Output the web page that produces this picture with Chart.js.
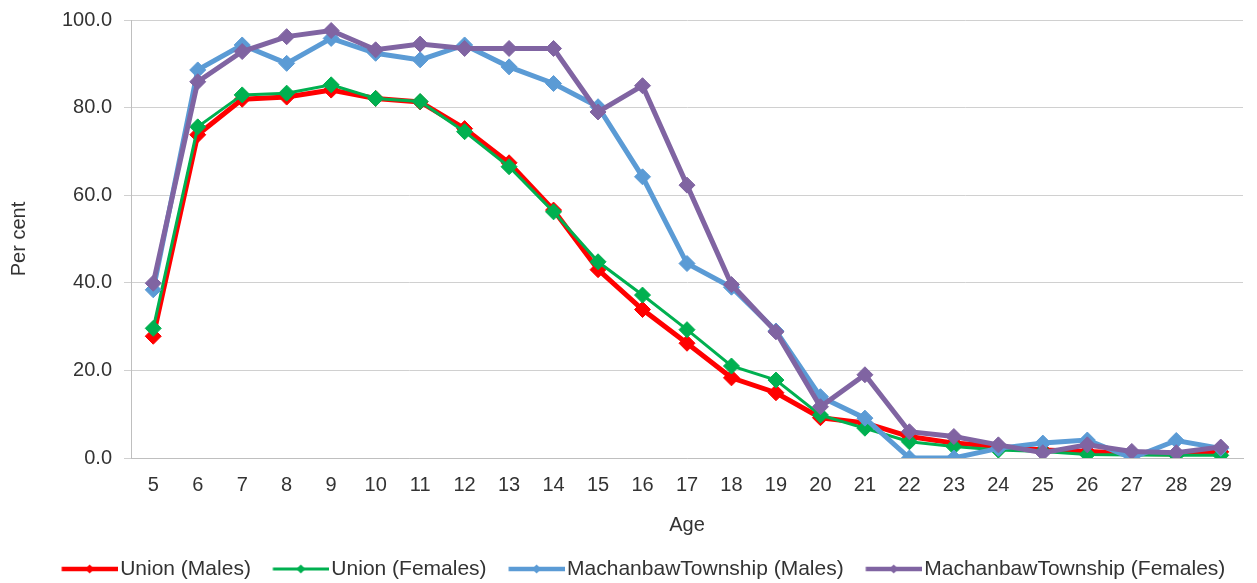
<!DOCTYPE html>
<html><head><meta charset="utf-8">
<script src="https://cdn.jsdelivr.net/npm/chart.js@4.4.1/dist/chart.umd.min.js"></script>
<style>html,body{margin:0;padding:0;background:#fff;}#wrap{width:1257px;height:583px;position:relative;}</style>
</head><body><div id="wrap"><canvas id="c"></canvas></div>
<script>
const ages = ['5','6','7','8','9','10','11','12','13','14','15','16','17','18','19','20','21','22','23','24','25','26','27','28','29'];
const unionMales   = [27.8, 73.8, 81.9, 82.4, 84.0, 82.1, 81.3, 75.2, 67.4, 56.6, 43.0, 33.9, 26.2, 18.3, 14.9, 9.2, 8.0, 4.9, 3.4, 2.6, 1.8, 1.5, 1.1, 0.9, 1.4];
const unionFemales = [29.6, 75.6, 82.9, 83.3, 85.2, 82.1, 81.4, 74.5, 66.5, 56.2, 44.8, 37.2, 29.3, 21.0, 17.8, 9.8, 6.8, 3.7, 2.6, 1.8, 1.5, 0.8, 0.7, 0.6, 0.6];
const townMales    = [38.4, 88.6, 94.3, 90.1, 95.8, 92.4, 90.9, 94.3, 89.3, 85.5, 80.2, 64.2, 44.4, 39.0, 29.0, 14.0, 9.1, 0.0, 0.0, 2.2, 3.4, 4.1, 0.0, 4.0, 2.2];
const townFemales  = [39.9, 85.9, 92.8, 96.2, 97.6, 93.2, 94.5, 93.5, 93.5, 93.5, 79.0, 85.0, 62.3, 39.6, 28.8, 11.7, 19.0, 6.0, 4.9, 3.0, 1.2, 3.0, 1.5, 1.2, 2.5];
const seriesNames  = ['Union (Males)', 'Union (Females)', 'MachanbawTownship (Males)', 'MachanbawTownship (Females)'];
const yTicks = [0, 20, 40, 60, 80, 100];

const FONT = '"Liberation Sans", Arial, sans-serif';
const TXT = '#333333';
const colors = ['#FF0000', '#00B050', '#5B9BD5', '#8064A2'];
const lineW = [5, 3, 5, 5];

function legendImg(color, lw) {
  const c = document.createElement('canvas');
  c.width = 73; c.height = 14;
  const g = c.getContext('2d');
  g.strokeStyle = color; g.lineWidth = lw; g.lineCap = 'butt';
  g.beginPath(); g.moveTo(16.5, 7); g.lineTo(73, 7); g.stroke();
  g.fillStyle = color;
  const cx = 44.5;
  g.beginPath(); g.moveTo(cx, 2.5); g.lineTo(cx + 4.5, 7); g.lineTo(cx, 11.5); g.lineTo(cx - 4.5, 7); g.closePath(); g.fill();
  return c;
}
const legendImgs = colors.map((c, i) => legendImg(c, i === 1 ? 3 : 4.5));

const dataSets = [unionMales, unionFemales, townMales, townFemales];
const datasets = dataSets.map((d, i) => ({
  label: seriesNames[i],
  data: d,
  borderColor: colors[i],
  backgroundColor: colors[i],
  borderWidth: lineW[i],
  pointStyle: 'rectRot',
  pointRadius: 8,
  pointBorderWidth: 1,
  pointBorderColor: colors[i],
  pointBackgroundColor: colors[i],
  tension: 0,
  order: 4 - i
}));

const legendShift = {
  id: 'legendShift',
  afterLayout(chart) {
    const l = chart.legend;
    if (!l) return;
    const pad = 14;
    const rowCenter = l.top + pad + 10.5;
    const dy = 569 - rowCenter;
    l.top += dy; l.bottom += dy;
    l.left += 18; l.right += 18;
  }
};

new Chart(document.getElementById('c'), {
  type: 'line',
  data: { labels: ages, datasets },
  options: {
    responsive: true,
    maintainAspectRatio: false,
    animation: false,
    layout: { padding: { top: 20, right: 14, left: 0, bottom: 0 } },
    plugins: {
      tooltip: { enabled: false },
      legend: {
        position: 'bottom',
        labels: {
          font: { family: FONT, size: 21 },
          color: TXT,
          usePointStyle: true,
          pointStyleWidth: 56,
          padding: 14,
          generateLabels(chart) {
            const items = Chart.defaults.plugins.legend.labels.generateLabels(chart);
            items.forEach(it => { it.pointStyle = legendImgs[it.datasetIndex]; it.fontColor = TXT; });
            items.sort((a, b) => a.datasetIndex - b.datasetIndex);
            return items;
          }
        }
      }
    },
    scales: {
      x: {
        offset: true,
        grid: { display: false, drawTicks: false },
        border: { display: true, color: '#BFBFBF', width: 1 },
        ticks: { font: { family: FONT, size: 20 }, color: TXT, padding: 15, maxRotation: 0, autoSkip: false },
        title: { display: true, text: 'Age', font: { family: FONT, size: 20 }, color: TXT, padding: { top: 0, bottom: 1 } },
        afterFit(s) { s.height = 80; }
      },
      y: {
        min: 0, max: 100,
        afterBuildTicks(s) { s.ticks = yTicks.map(v => ({ value: v })); },
        grid: { color: '#D0D0D0', lineWidth: 1, tickLength: 7, drawTicks: true },
        border: { display: true, color: '#BFBFBF', width: 1 },
        ticks: { font: { family: FONT, size: 20 }, color: TXT, padding: 12, callback: v => Number(v).toFixed(1) },
        title: { display: true, text: 'Per cent', font: { family: FONT, size: 20 }, color: TXT, padding: { top: 7, bottom: 0 } },
        afterFit(s) { s.width = 131; s.paddingTop = 0; s.paddingBottom = 0; }
      }
    }
  },
  plugins: [legendShift]
});
</script>
</body></html>
